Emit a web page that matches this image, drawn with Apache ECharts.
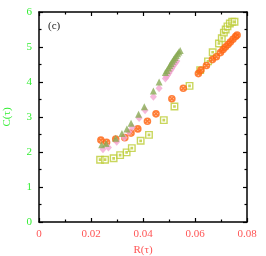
<!DOCTYPE html>
<html><head><meta charset="utf-8">
<script src="https://cdn.jsdelivr.net/npm/echarts@6/dist/echarts.min.js"></script>
<style>html,body{margin:0;padding:0;background:#fff}#c{width:266px;height:256px}</style>
</head><body><div id="c"></div>
<script>
var xTicks = ['0', '0.02', '0.04', '0.06', '0.08'];
var yTicks = ['0', '1', '2', '3', '4', '5', '6'];
var panelLabel = '(c)';
var xName = 'R(τ)';
var yName = 'C(τ)';

var circR = [0.0238,0.0260,0.0295,0.0330,0.0354,0.0380,0.0417,0.0450,0.0511,0.0555,0.0613,0.0623,0.0644,0.0667,0.0682,0.0698,0.0708,0.0717,0.0727,0.0736,0.0746,0.0756,0.0762];
var circC = [2.34,2.28,2.37,2.41,2.54,2.66,2.88,3.09,3.52,3.82,4.24,4.34,4.47,4.64,4.72,4.84,4.93,5.00,5.07,5.14,5.22,5.30,5.34];

var sqR = [0.0235,0.0254,0.0287,0.0312,0.0337,0.0357,0.0391,0.0423,0.0480,0.0521,0.0579,0.0620,0.0650,0.0668,0.0692,0.0703,0.0711,0.0718,0.0725,0.0734,0.0743,0.0752];
var sqC = [1.78,1.78,1.82,1.91,1.99,2.11,2.32,2.49,2.91,3.30,3.89,4.34,4.59,4.85,5.10,5.25,5.41,5.50,5.59,5.67,5.72,5.72];

var triR = [0.0241,0.0258,0.0295,0.0319,0.0338,0.0354,0.0383,0.0405,0.0440,0.0462,0.0486,0.0492,0.0498,0.0503,0.0508,0.0513,0.0518,0.0523,0.0528,0.0533,0.0538,0.0543];
var triC = [2.21,2.24,2.39,2.53,2.66,2.82,3.08,3.29,3.74,4.00,4.27,4.33,4.40,4.47,4.53,4.59,4.65,4.70,4.76,4.81,4.86,4.90];

var diaR = [0.0246,0.0267,0.0299,0.0328,0.0346,0.0359,0.0385,0.0408,0.0440,0.0462,0.0486,0.0490,0.0495,0.0500,0.0505,0.0510,0.0515,0.0520,0.0525,0.0530];
var diaC = [2.08,2.13,2.29,2.41,2.57,2.71,2.97,3.19,3.58,3.82,4.10,4.15,4.20,4.26,4.32,4.38,4.44,4.50,4.55,4.60];

function pairs(a, b) { return a.map(function (v, i) { return [v, b[i]]; }); }

var serif = 'Liberation Serif';
var chart = echarts.init(document.getElementById('c'), null, {renderer: 'canvas'});
var axisLine = {show: true, onZero: false, lineStyle: {color: '#000', width: 1.5}};
var xLab = function (v) { var i = Math.round(v / 0.02); return (Math.abs(v - i * 0.02) < 1e-9) ? xTicks[i] : ''; };
var yLab = function (v) { return yTicks[Math.round(v)]; };
var tick = {show: true, inside: true, length: 4, lineStyle: {color: '#000', width: 1.2}};
var minor = {show: true, splitNumber: 2, length: 2.5, lineStyle: {color: '#000', width: 1.2}};
chart.setOption({
  animation: false,
  grid: {left: 39, right: 19, top: 12, bottom: 34, containLabel: false, outerBoundsMode: 'none'},
  xAxis: [{
    type: 'value', min: 0, max: 0.08, interval: 0.02, position: 'bottom',
    axisLine: axisLine, axisTick: tick, minorTick: minor, splitLine: {show: false},
    axisLabel: {color: '#ff5555', fontFamily: serif, fontSize: 11, margin: 7, formatter: xLab},
    name: xName, nameLocation: 'middle', nameGap: 22,
    nameTextStyle: {color: '#ff5555', fontFamily: serif, fontSize: 11}
  }, {
    type: 'value', min: 0, max: 0.08, interval: 0.02, position: 'top',
    axisLine: axisLine, axisTick: tick, minorTick: minor,
    splitLine: {show: false}, axisLabel: {show: false}
  }],
  yAxis: [{
    type: 'value', min: 0, max: 6, interval: 1, position: 'left',
    axisLine: axisLine, axisTick: tick, minorTick: minor, splitLine: {show: false},
    axisLabel: {color: '#33ee33', fontFamily: serif, fontSize: 11, margin: 7, formatter: yLab},
    name: yName, nameLocation: 'middle', nameGap: 26, nameRotate: 90,
    nameTextStyle: {color: '#33ee33', fontFamily: serif, fontSize: 11}
  }, {
    type: 'value', min: 0, max: 6, interval: 1, position: 'right',
    axisLine: axisLine, axisTick: tick, minorTick: minor,
    splitLine: {show: false}, axisLabel: {show: false}
  }],
  graphic: [{type: 'text', left: 48, top: 21, style: {text: panelLabel, font: '11px "Liberation Serif"', fill: '#222'}}],
  series: [
    {type: 'scatter', data: pairs(sqR, sqC), symbol: 'path://M0,0L10,0L10,10L0,10Z M4,4L6,4L6,6L4,6Z', symbolSize: 6.5,
     itemStyle: {color: 'rgba(255,255,255,0.6)', borderColor: '#bccc33', borderWidth: 1.4}},
    {type: 'scatter', data: pairs(circR, circC), symbol: 'path://M5,0A5,5,0,1,1,5,10A5,5,0,1,1,5,0Z M2,2L8,8M8,2L2,8', symbolSize: 6,
     itemStyle: {color: 'rgba(255,150,90,0.45)', borderColor: '#ff6410', borderWidth: 1.6}},
    {type: 'scatter', data: pairs(diaR, diaC), symbol: 'diamond', symbolSize: [7, 8],
     itemStyle: {color: '#f2a6d2'}},
    {type: 'scatter', data: pairs(triR, triC), symbol: 'triangle', symbolSize: 7,
     itemStyle: {color: '#8aaa55'}}
  ]
});
</script></body></html>
